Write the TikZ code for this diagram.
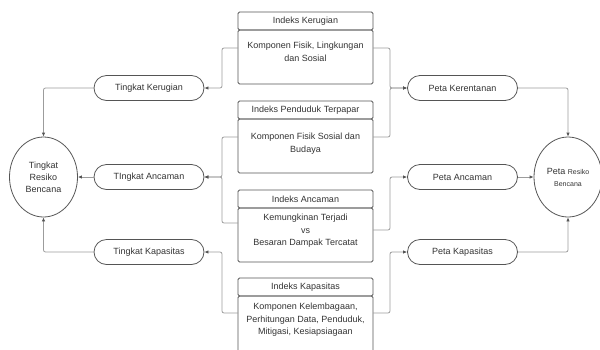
\documentclass[tikz,border=0pt]{standalone}
\usepackage{fontspec}
\setmainfont{Liberation Sans}
\usepackage{tikz}
\usetikzlibrary{positioning,arrows.meta,shapes.geometric}

\definecolor{boxline}{HTML}{555555}
\definecolor{linkline}{HTML}{9C9C9C}
\definecolor{txt}{HTML}{333333}

\begin{document}
\begin{tikzpicture}[x=1pt, y=-1pt, >={Latex[length=4pt,width=3.5pt,color=boxline]}, font=\fontsize{9}{12.5}\selectfont, text=txt,
    index head/.style={draw=boxline, line width=0.8pt, rounded corners=1.5pt, minimum width=135pt, minimum height=18pt, inner sep=0pt, outer sep=0pt},
    index body/.style={draw=boxline, line width=0.8pt, rounded corners=1.5pt, minimum width=135pt, minimum height=54pt, inner sep=0pt, outer sep=0pt},
    index text/.style={align=center, inner sep=0pt},
    level node/.style={draw=boxline, line width=0.8pt, rounded corners=12.5pt, minimum width=110pt, minimum height=25pt, inner sep=0pt},
    risk node/.style={ellipse, draw=boxline, line width=0.8pt, minimum width=68pt, minimum height=80pt, inner sep=0pt, align=center, font=\fontsize{9}{12}\selectfont},
    link/.style={->, draw=linkline, line width=0.8pt, rounded corners=2pt}]
    \useasboundingbox (0,0) rectangle (600,349);

    \node[index head] (kerHead) at (305.5,21) {Indeks Kerugian};
    \node[index body, below=0pt of kerHead] (kerBody) {};
    \node[index text, below=12pt of kerHead] (kerText) {Komponen Fisik, Lingkungan\\dan Sosial};

    \node[index head] (pendHead) at (305.5,110) {Indeks Penduduk Terpapar};
    \node[index body, below=0pt of pendHead] (pendBody) {};
    \node[index text, below=14pt of pendHead] (pendText) {Komponen Fisik Sosial dan\\Budaya};

    \node[index head] (ancHead) at (305.5,199) {Indeks Ancaman};
    \node[index body, below=0pt of ancHead] (ancBody) {};
    \node[index text, below=6pt of ancHead] (ancText) {Kemungkinan Terjadi\\vs\\Besaran Dampak Tercatat};

    \node[index head] (kapHead) at (305.5,287) {Indeks Kapasitas};
    \node[index body, minimum height=74pt, below=0pt of kapHead] (kapBody) {};
    \node[index text, below=7pt of kapHead] (kapText) {Komponen Kelembagaan,\\Perhitungan Data, Penduduk,\\Mitigasi, Kesiapsiagaan};

    \node[level node] (tkRugi) at (149,88) {Tingkat Kerugian};
    \node[level node] (tkAncam) at (149,177) {TIngkat Ancaman};
    \node[level node] (tkKapas) at (149,252) {Tingkat Kapasitas};
    \node[risk node] (tkResiko) at (43.5,177) {Tingkat\\Resiko\\Bencana};

    \node[level node] (pRentan) at (462.5,88) {Peta Kerentanan};
    \node[level node] (pAncam) at (462.5,177) {Peta Ancaman};
    \node[level node] (pKapas) at (462.5,252) {Peta Kapasitas};
    \node[risk node] (pResiko) at (568,177) {Peta {\fontsize{7}{10}\selectfont Resiko}\\{\fontsize{7}{10}\selectfont Bencana}};

    \draw[link] ([yshift=9pt]kerBody.west) -- ++(-16,0) |- (tkRugi.east);
    \draw[link] ([yshift=9pt]pendBody.west) -- ++(-16,0) |- (tkAncam.east);
    \draw[link] ([yshift=12pt]ancBody.west) -- ++(-16,0) |- (tkAncam.east);
    \draw[link] ([yshift=20pt]kapBody.west) -- ++(-16,0) |- (tkKapas.east);

    \draw[link] ([yshift=9pt]kerBody.east) -- ++(17,0) |- (pRentan.west);
    \draw[link] ([yshift=9pt]pendBody.east) -- ++(17,0) |- (pRentan.west);
    \draw[link] ([yshift=5pt]ancBody.east) -- ++(17,0) |- (pAncam.west);
    \draw[link] ([yshift=20pt]kapBody.east) -- ++(17,0) |- (pKapas.west);

    \draw[link] (tkRugi.west) -| (tkResiko.north);
    \draw[link] (tkAncam.west) -- (tkResiko.east);
    \draw[link] (tkKapas.west) -| (tkResiko.south);
    \draw[link] (pRentan.east) -| (pResiko.north);
    \draw[link] (pAncam.east) -- (pResiko.west);
    \draw[link] (pKapas.east) -| (pResiko.south);
\end{tikzpicture}
\end{document}
